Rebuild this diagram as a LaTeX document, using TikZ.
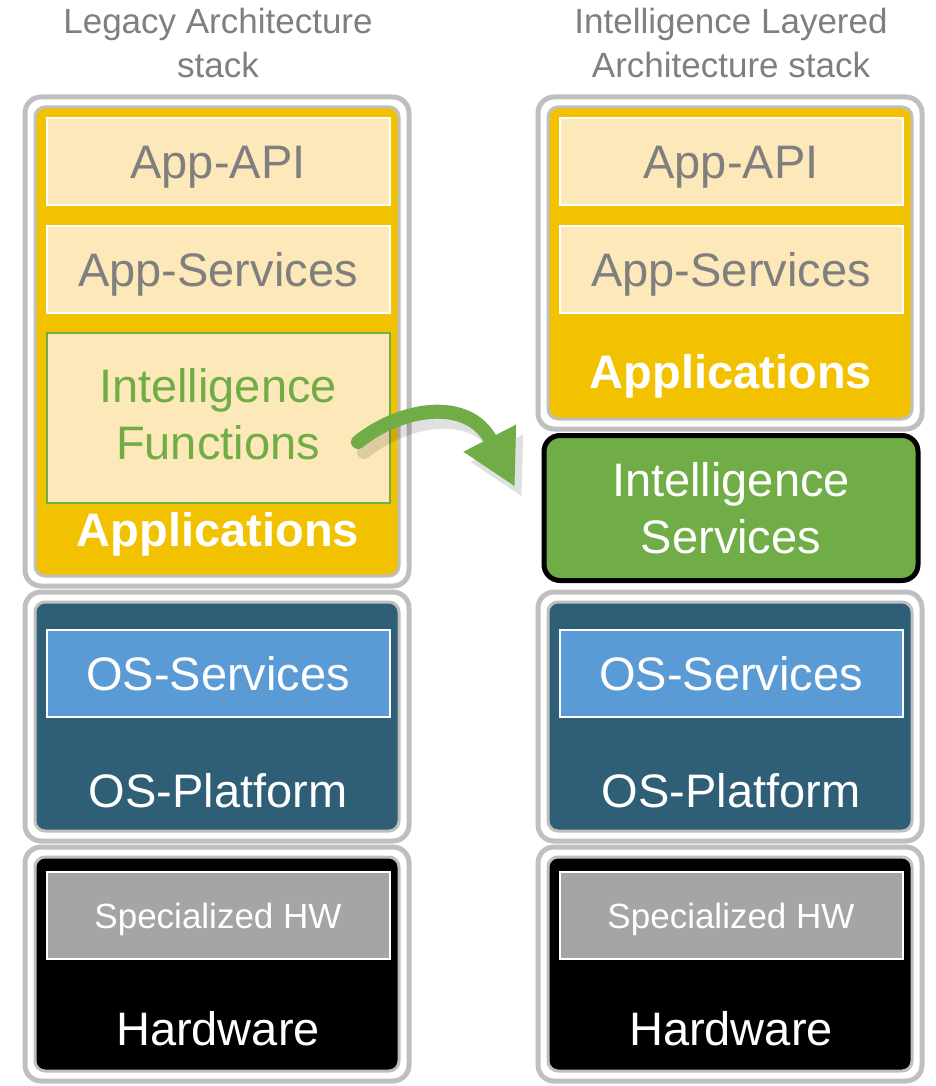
\documentclass[tikz,border=0pt]{standalone}
\usepackage{fontspec}
\setmainfont{Liberation Sans}
\usetikzlibrary{arrows.meta}
\definecolor{gold}{HTML}{F2C200}
\definecolor{pale}{HTML}{FCE8B8}
\definecolor{txtgray}{HTML}{7F7F7F}
\definecolor{bgray}{HTML}{BFBFBF}
\definecolor{igreen}{HTML}{70AD47}
\definecolor{osteal}{HTML}{2F5F76}
\definecolor{osblue}{HTML}{5B9BD5}
\definecolor{hwgray}{HTML}{A5A5A5}
\begin{document}
\begin{tikzpicture}[x=1pt,y=-1pt,
  outerframe/.style={draw=bgray, line width=5pt, fill=white, rounded corners=16pt, inner sep=0pt, minimum width=384pt},
  innerframe/.style={draw=bgray, line width=3pt, rounded corners=10pt, inner sep=0pt, minimum width=364pt},
  itemplain/.style={line width=2pt, inner sep=0pt, minimum width=343pt, font=\fontsize{47}{57}\selectfont},
  itembox/.style={itemplain, draw=white, minimum height=87pt, text height=34pt, text depth=0pt},
  lbl/.style={anchor=base, text=white, font=\fontsize{47}{57}\selectfont, inner sep=0pt},
  boldlbl/.style={anchor=base, text=white, font=\fontsize{47}{57}\selectfont\bfseries, inner sep=0pt},
  ttl/.style={align=center, text=txtgray, font=\fontsize{35}{44}\selectfont, inner sep=0pt},
  flow/.style={line width=14pt, line cap=round, -{Triangle[length=55pt,width=55pt]}}
]
\useasboundingbox (0,0) rectangle (935,1086);

% titles
\node[ttl] (ttlL) at (218,43) {Legacy Architecture\\stack};
\node[ttl] (ttlR) at (731,43) {Intelligence Layered\\Architecture stack};

% ---------- left column ----------
\node[outerframe, minimum height=489pt] (appLo) at (217,341.5) {};
\node[innerframe, minimum height=469pt, fill=gold] (appLi) at (217,341.5) {};
\node[itembox, fill=pale, text=txtgray] (apiL) at (218,161.5) {App-API};
\node[itembox, fill=pale, text=txtgray] (svcL) at (218,269) {App-Services};
\node[itemplain, draw=igreen, fill=pale, text=igreen, minimum height=170pt, align=center, text depth=8pt] (ifunL) at (218,418) {Intelligence\\Functions};
\node[boldlbl] (appLl) at (218,546) {Applications};

\node[outerframe, minimum height=249pt] (osLo) at (217,716.5) {};
\node[innerframe, minimum height=229pt, fill=osteal] (osLi) at (217,716.5) {};
\node[itembox, fill=osblue, text=white] (ossL) at (218,673) {OS-Services};
\node[lbl] (osLl) at (218,807) {OS-Platform};

\node[outerframe, minimum height=234pt] (hwLo) at (217,964) {};
\node[innerframe, minimum height=214pt, fill=black] (hwLi) at (217,964) {};
\node[itembox, fill=hwgray, text=white, font=\fontsize{35}{42}\selectfont, text height=26pt] (shwL) at (218,915) {Specialized HW};
\node[lbl] (hwLl) at (218,1045) {Hardware};

% ---------- right column ----------
\node[outerframe, minimum height=332pt] (appRo) at (730,263) {};
\node[innerframe, minimum height=312pt, fill=gold] (appRi) at (730,263) {};
\node[itembox, fill=pale, text=txtgray] (apiR) at (731,161.5) {App-API};
\node[itembox, fill=pale, text=txtgray] (svcR) at (731,269) {App-Services};
\node[boldlbl] (appRl) at (731,388) {Applications};

\node[draw=black, line width=5pt, fill=igreen, rounded corners=16pt, inner sep=0pt, minimum width=374pt, minimum height=145pt, align=center, text=white, font=\fontsize{47}{57}\selectfont] (isvcR) at (731,508) {Intelligence\\Services};

\node[outerframe, minimum height=249pt] (osRo) at (730,716.5) {};
\node[innerframe, minimum height=229pt, fill=osteal] (osRi) at (730,716.5) {};
\node[itembox, fill=osblue, text=white] (ossR) at (731,673) {OS-Services};
\node[lbl] (osRl) at (731,807) {OS-Platform};

\node[outerframe, minimum height=234pt] (hwRo) at (730,964) {};
\node[innerframe, minimum height=214pt, fill=black] (hwRi) at (730,964) {};
\node[itembox, fill=hwgray, text=white, font=\fontsize{35}{42}\selectfont, text height=26pt] (shwR) at (731,915) {Specialized HW};
\node[lbl] (hwRl) at (731,1045) {Hardware};

% ---------- arrow ----------
\coordinate (aS) at (358,442);
\coordinate (aE) at (515,487);
\coordinate (sS) at (364,452);
\coordinate (sE) at (522,497);
\begin{scope}[transparency group, opacity=0.12]
\draw[flow, black] (sS) .. controls (406,418) and (475,406) .. (sE);
\end{scope}
\draw[flow, igreen] (aS) .. controls (400,408) and (468,396) .. (aE);
\end{tikzpicture}
\end{document}
